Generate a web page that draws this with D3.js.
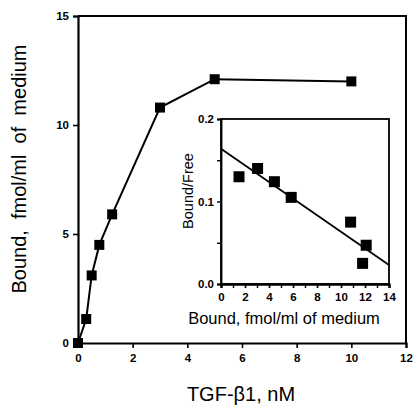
<!DOCTYPE html>
<html>
<head>
<meta charset="utf-8">
<script src="https://cdn.jsdelivr.net/npm/d3@7"></script>
<style>
  body { margin: 0; background: #fff; }
  svg text { font-family: "Liberation Sans", Arial, sans-serif; fill: #000; }
</style>
</head>
<body>
<div class="chart"></div>
<script>
// main curve: TGF-b1 (nM) vs bound
const conc = [0, 0.3, 0.5, 0.78, 1.25, 3, 5, 10];
const bound = [0, 1.1, 3.1, 4.5, 5.9, 10.8, 12.1, 12.0];
const xTicks = [0, 2, 4, 6, 8, 10, 12];
const yTicks = [0, 5, 10, 15];

// scatchard inset
const insetBound = [1.5, 3.05, 4.45, 5.85, 10.8, 12.1, 11.8];
const insetRatio = [0.130, 0.140, 0.124, 0.105, 0.075, 0.047, 0.025];
const fitLine = [[0, 0.164], [14, 0.023]];
const insetXTicks = [0, 2, 4, 6, 8, 10, 12, 14];
const insetYTicks = [0, 0.1, 0.2];

const svg = d3.select('.chart')
  .append('svg')
  .attr('width', 416)
  .attr('height', 406);

// main scales
const x = d3.scaleLinear().domain([0, 12]).range([78, 406]);
const y = d3.scaleLinear().domain([0, 15]).range([343, 16]);

// frame (top and right)
svg.append('path')
  .attr('d', `M${x(0)},${y(15)}H${x(12)}V${y(0)}`)
  .attr('fill', 'none')
  .attr('stroke', '#000')
  .attr('stroke-width', 2);

const xAxis = svg.append('g')
  .attr('transform', `translate(0,${y(0)})`)
  .call(d3.axisBottom(x).tickValues(xTicks).tickSize(5).tickPadding(6));
const yAxis = svg.append('g')
  .attr('transform', `translate(${x(0)},0)`)
  .call(d3.axisLeft(y).tickValues(yTicks).tickSize(5).tickPadding(4));

[xAxis, yAxis].forEach(g => {
  g.select('.domain').attr('stroke-width', 2.2);
  g.selectAll('.tick line').attr('stroke-width', 1.6);
  g.selectAll('text')
    .attr('font-size', 11.5)
    .attr('font-weight', 'bold')
    .style('font-family', '"Liberation Sans", Arial, sans-serif');
});

const pts = conc.map((c, i) => [c, bound[i]]);
svg.append('path')
  .datum(pts)
  .attr('fill', 'none')
  .attr('stroke', '#000')
  .attr('stroke-width', 2)
  .attr('d', d3.line().x(d => x(d[0])).y(d => y(d[1])));

svg.selectAll('.pt')
  .data(pts)
  .enter()
  .append('rect')
  .attr('class', 'pt')
  .attr('x', d => x(d[0]) - 5)
  .attr('y', d => y(d[1]) - 5)
  .attr('width', 10)
  .attr('height', 10)
  .attr('fill', '#000');

// axis labels
svg.append('text')
  .attr('transform', `translate(26,169) rotate(-90)`)
  .attr('text-anchor', 'middle')
  .attr('font-size', 20)
  .style('white-space', 'pre')
  .text('Bound,  fmol/ml  of  medium');

svg.append('text')
  .attr('x', 241)
  .attr('y', 401)
  .attr('text-anchor', 'middle')
  .attr('font-size', 20)
  .text('TGF-β1, nM');

// inset
const ix = d3.scaleLinear().domain([0, 14]).range([221, 389]);
const iy = d3.scaleLinear().domain([0, 0.2]).range([284, 119]);

svg.append('rect')
  .attr('x', ix(0))
  .attr('y', iy(0.2))
  .attr('width', ix(14) - ix(0))
  .attr('height', iy(0) - iy(0.2))
  .attr('fill', '#fff')
  .attr('stroke', '#000')
  .attr('stroke-width', 1.8);

const ixAxis = svg.append('g')
  .attr('transform', `translate(0,${iy(0)})`)
  .call(d3.axisBottom(ix).tickValues(d3.range(0, 14.5, 1)).tickSize(4).tickFormat(''));
ixAxis.append('g')
  .call(d3.axisBottom(ix).tickValues(insetXTicks).tickSize(4).tickPadding(5));
const iyAxis = svg.append('g')
  .attr('transform', `translate(${ix(0)},0)`)
  .call(d3.axisLeft(iy).tickValues([0, 0.05, 0.1, 0.15, 0.2]).tickSize(4)
    .tickFormat(d => insetYTicks.includes(d) ? d3.format('.1f')(d) : ''));

[ixAxis, iyAxis].forEach(g => {
  g.selectAll('.domain').attr('stroke-width', 1.8);
  g.selectAll('.tick line').attr('stroke-width', 1.4);
  g.selectAll('text')
    .attr('font-size', 11.5)
    .attr('font-weight', 'bold')
    .style('font-family', '"Liberation Sans", Arial, sans-serif');
});

svg.append('path')
  .datum(fitLine)
  .attr('fill', 'none')
  .attr('stroke', '#000')
  .attr('stroke-width', 1.8)
  .attr('d', d3.line().x(d => ix(d[0])).y(d => iy(d[1])));

svg.selectAll('.ipt')
  .data(insetBound.map((b, i) => [b, insetRatio[i]]))
  .enter()
  .append('rect')
  .attr('class', 'ipt')
  .attr('x', d => ix(d[0]) - 5.5)
  .attr('y', d => iy(d[1]) - 5.5)
  .attr('width', 11)
  .attr('height', 11)
  .attr('fill', '#000');

svg.append('text')
  .attr('transform', `translate(193,191) rotate(-90)`)
  .attr('text-anchor', 'middle')
  .attr('font-size', 14.5)
  .text('Bound/Free');

svg.append('text')
  .attr('x', 284)
  .attr('y', 324)
  .attr('text-anchor', 'middle')
  .attr('font-size', 16.5)
  .text('Bound, fmol/ml of medium');
</script>
</body>
</html>
